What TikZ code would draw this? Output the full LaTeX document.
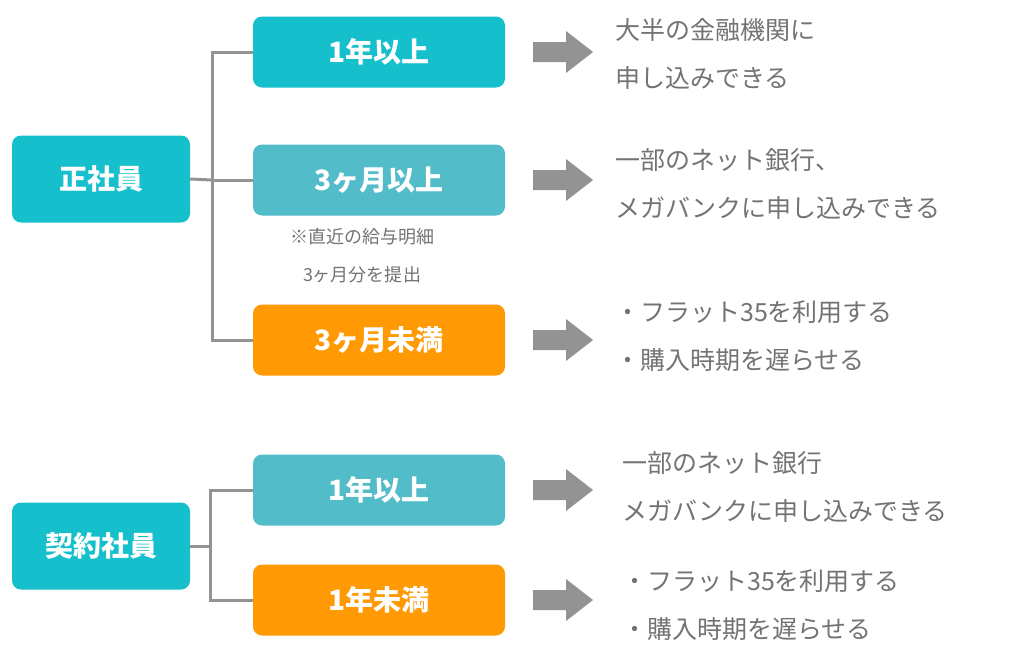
\documentclass[tikz,border=0pt]{standalone}
\usepackage{fontspec}
\setmainfont{Noto Sans CJK JP}
\begin{document}
\begin{tikzpicture}[x=1pt,y=-1pt,
  box/.style={rounded corners=9pt,minimum width=252pt,minimum height=71pt,text=white,font=\fontsize{28}{32}\selectfont\bfseries,inner sep=0pt},
  big/.style={box,minimum width=178pt,minimum height=87pt},
  line/.style={draw=gray!85,line width=3pt},
  txt/.style={anchor=west,text=black!55,font=\fontsize{25}{48}\selectfont,align=left,inner sep=0pt},
  arr/.style={fill=gray!85}]
\definecolor{teal1}{HTML}{16BFCC}
\definecolor{teal2}{HTML}{52BCC8}
\definecolor{orng}{HTML}{FF9A05}
\useasboundingbox (0,0) rectangle (1024,656);
\node[big,fill=teal1] (s) at (101,179) {正社員};
\node[box,fill=teal1] (a1) at (379,52) {1年以上};
\node[box,fill=teal2] (a2) at (379,180) {3ヶ月以上};
\node[box,fill=orng] (a3) at (379,340) {3ヶ月未満};
\node[anchor=north,text=black!55,font=\fontsize{18}{38}\selectfont,align=center] (note) at (362,225) {※直近の給与明細\\3ヶ月分を提出};
\node[big,fill=teal1] (k) at (101,546) {契約社員};
\node[box,fill=teal2] (b1) at (379,490) {1年以上};
\node[box,fill=orng] (b2) at (379,600) {1年未満};
\coordinate (j1) at (212,180);
\coordinate (j2) at (210,546);
\draw[line] (s.east) -- (j1);
\draw[line] (a1.west) -| (j1) |- (a3.west);
\draw[line] (j1) -- (a2.west);
\draw[line] (k.east) -- (j2);
\draw[line] (b1.west) -| (j2) |- (b2.west);
\foreach \y in {52,180,340,490,600}{
  \fill[gray!85] (533,\y-10) -- (566,\y-10) -- (566,\y-21) -- (593,\y) -- (566,\y+21) -- (566,\y+10) -- (533,\y+10) -- cycle;
}
\node[txt] (t1) at (615,54) {大半の金融機関に\\申し込みできる};
\node[txt] (t2) at (615,184) {一部のネット銀行、\\メガバンクに申し込みできる};
\node[txt] (t3) at (615,336) {・フラット35を利用する\\・購入時期を遅らせる};
\node[txt] (t4) at (622,487) {一部のネット銀行\\メガバンクに申し込みできる};
\node[txt] (t5) at (622,605) {・フラット35を利用する\\・購入時期を遅らせる};
\end{tikzpicture}
\end{document}
